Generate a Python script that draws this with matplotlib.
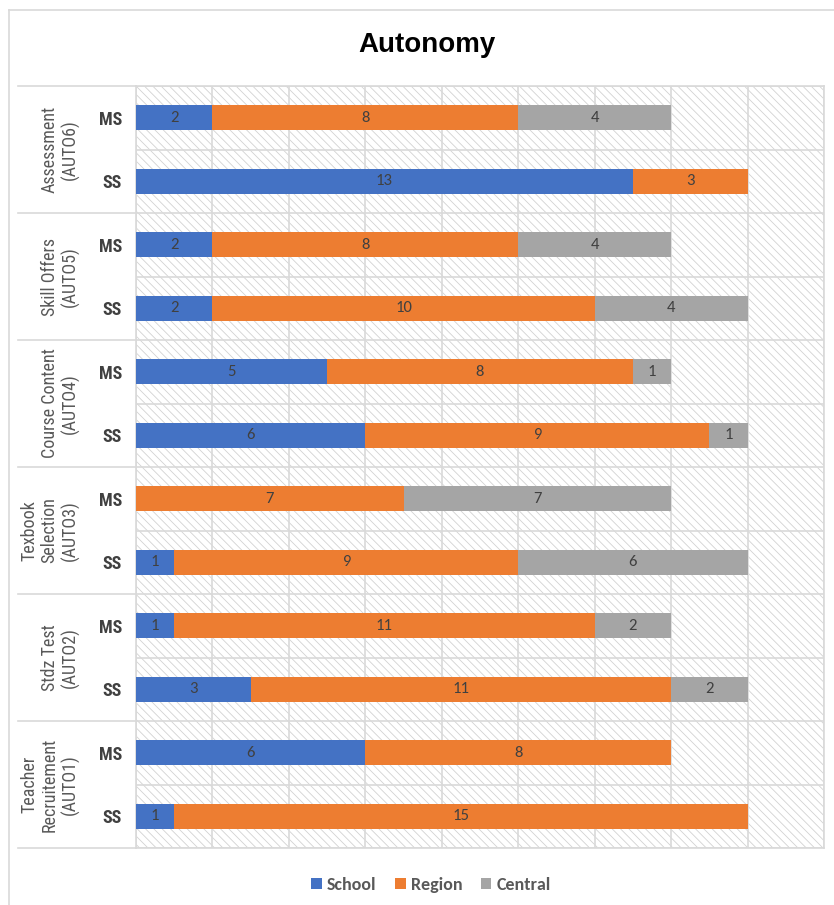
import matplotlib
matplotlib.use("Agg")
import matplotlib.pyplot as plt
import matplotlib.transforms as mtransforms
from matplotlib.patches import Patch, Rectangle
from matplotlib.lines import Line2D
import numpy as np

# survey answers, top to bottom
groups = ["Assessment\n(AUTO6)", "Skill Offers\n(AUTO5)", "Course Content\n(AUTO4)",
          "Texbook\nSelection\n(AUTO3)", "Stdz Test\n(AUTO2)", "Teacher\nRecruitement\n(AUTO1)"]
levels = ["MS", "SS"]
school = [2, 13, 2, 2, 5, 6, 0, 1, 1, 3, 6, 1]
region = [8, 3, 8, 10, 8, 9, 7, 9, 11, 11, 8, 15]
central = [4, 0, 4, 4, 1, 1, 7, 6, 2, 2, 0, 0]
series = ["School", "Region", "Central"]
colors = ["#4472C4", "#ED7D31", "#A5A5A5"]

narrow = ["Roboto Condensed", "DejaVu Sans"]
calibri = ["Carlito", "DejaVu Sans"]
grid_c = "#d9d9d9"
plt.rcParams["hatch.color"] = "#d2d2d2"
plt.rcParams["hatch.linewidth"] = 0.6

fig = plt.figure(figsize=(8.34, 9.05), dpi=100)
ax = fig.add_axes([136 / 834, 1 - 848 / 905, 688 / 834, 762 / 905])

# hatched plot background
ax.add_patch(Rectangle((0, 0), 1, 1, transform=ax.transAxes, facecolor="white",
                       edgecolor="#d2d2d2", hatch="\\\\\\\\", linewidth=0, zorder=0))

rows = [l for g in groups for l in levels]
y = np.arange(len(rows))
left = np.zeros(len(rows))
for vals, name, c in zip([school, region, central], series, colors):
    vals = np.array(vals, dtype=float)
    bars = ax.barh(y, vals, left=left, height=0.39, color=c, label=name, zorder=3)
    for b, v in zip(bars, vals):
        if v > 0:
            ax.text(b.get_x() + b.get_width() / 2, b.get_y() + b.get_height() / 2,
                    f"{int(v)}", ha="center", va="center", fontsize=12,
                    color="#404040", family=calibri, zorder=4)
    left += vals

ax.set_xlim(0, 18)
ax.set_ylim(len(rows) - 0.5, -0.5)
ax.set_xticks(np.arange(0, 19, 2))
ax.set_xticklabels([])
ax.set_yticks(y)
ax.set_yticklabels(rows, fontsize=13, fontweight="bold", color="#404040", family=narrow)
ax.set_yticks(np.arange(-0.5, len(rows), 1), minor=True)
ax.tick_params(axis="both", which="both", length=0)
ax.tick_params(axis="y", pad=10)
ax.grid(axis="x", which="major", color=grid_c, linewidth=1.2, zorder=1)
ax.grid(axis="y", which="minor", color=grid_c, linewidth=1.2, zorder=1)
ax.set_axisbelow(True)
for s in ax.spines.values():
    s.set_color(grid_c)
    s.set_linewidth(1.2)

# outer category labels and separators
trans = mtransforms.blended_transform_factory(ax.transAxes, ax.transData)
for i, g in enumerate(groups):
    ax.text(-56 / 688, 2 * i + 0.5, g, transform=trans, rotation=90, ha="right",
            va="center", multialignment="center", fontsize=13, color="#595959",
            family=narrow, linespacing=1.15)
for i in range(len(groups) + 1):
    ax.add_line(Line2D([-0.1715, 0], [2 * i - 0.5, 2 * i - 0.5], transform=trans,
                       color=grid_c, linewidth=1.2, clip_on=False))

# chart area frame
fig.add_artist(Line2D([9 / 834, 9 / 834], [0, 1 - 10 / 905], color=grid_c, linewidth=1.2))
fig.add_artist(Line2D([9 / 834, 1], [1 - 10 / 905, 1 - 10 / 905], color=grid_c, linewidth=1.2))

fig.text(427 / 834, 1 - 45 / 905, "Autonomy", ha="center", va="center",
         fontsize=20, fontweight="bold", family=["Liberation Sans", "DejaVu Sans"])

handles = [Patch(facecolor=c, label=n) for n, c in zip(series, colors)]
leg = fig.legend(handles=handles, loc="center", bbox_to_anchor=(431 / 834, 1 - 885 / 905),
                 ncol=3, frameon=False, handlelength=0.6, handleheight=0.6,
                 handletextpad=0.3, columnspacing=1.0,
                 prop={"family": calibri, "size": 13, "weight": "bold"})
for t in leg.get_texts():
    t.set_color("#595959")

fig.savefig("out.png", dpi=100)
